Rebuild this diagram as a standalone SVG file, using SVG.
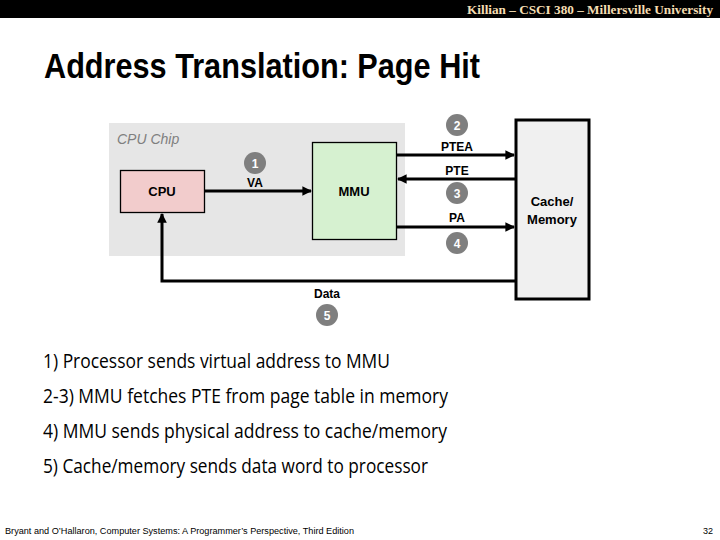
<svg xmlns="http://www.w3.org/2000/svg" width="720" height="540" viewBox="0 0 720 540">
<style>
.box{stroke:#000;stroke-width:1.3}
.lbl{font-family:"Liberation Sans",Arial,sans-serif;font-weight:bold;font-size:12px;fill:#000;text-anchor:middle}
.node{font-family:"Liberation Sans",Arial,sans-serif;font-weight:bold;font-size:13px;fill:#000}
.num{font-family:"Liberation Sans",Arial,sans-serif;font-weight:bold;font-size:12px;fill:#fff;text-anchor:middle}
.dot{fill:#7f7f7f}
.wire{stroke:#000;stroke-width:3;fill:none}
.body{font-family:"Open Sans","Liberation Sans",sans-serif;font-size:19.5px;fill:#000}
</style>
<defs>
<marker id="ah" viewBox="0 0 10 10" refX="9" refY="5" markerWidth="3.2" markerHeight="3.2" orient="auto" markerUnits="strokeWidth">
<path d="M0,0 L10,5 L0,10 z" fill="#000"/>
</marker>
</defs>
<rect x="0" y="0" width="720" height="18" fill="#000"/>
<text x="713" y="14" text-anchor="end" font-family="Liberation Serif,serif" font-weight="bold" font-size="12.5" fill="#f5deb3" textLength="246" lengthAdjust="spacingAndGlyphs">Killian – CSCI 380 – Millersville University</text>
<text x="44" y="78" font-family="Liberation Sans,Arial,sans-serif" font-weight="bold" font-size="35" fill="#000" textLength="436" lengthAdjust="spacingAndGlyphs">Address Translation: Page Hit</text>

<g id="chip">
<rect x="109" y="123" width="296" height="133" fill="#e6e6e6"/>
<text x="117" y="144" font-family="Liberation Sans,Arial,sans-serif" font-style="italic" font-size="14" fill="#7f7f7f">CPU Chip</text>
</g>
<g id="cpu">
<rect class="box" x="120.5" y="170.5" width="84" height="42" fill="#f2cccc"/>
<text class="node" x="162" y="196" text-anchor="middle">CPU</text>
</g>
<g id="mmu">
<rect class="box" x="312.5" y="142.5" width="84" height="97" fill="#d6f1d0"/>
<text class="node" x="354" y="196" text-anchor="middle">MMU</text>
</g>
<g id="mem">
<rect x="516" y="120" width="73" height="179" fill="#f0f0f0" stroke="#000" stroke-width="3"/>
<text class="node" x="552" y="206" text-anchor="middle">Cache/</text>
<text class="node" x="552" y="224" text-anchor="middle">Memory</text>
</g>

<g id="connectors">
<line class="wire" x1="205" y1="191" x2="311" y2="191" marker-end="url(#ah)"/>
<line class="wire" x1="397" y1="155" x2="514" y2="155" marker-end="url(#ah)"/>
<line class="wire" x1="515" y1="179" x2="398" y2="179" marker-end="url(#ah)"/>
<line class="wire" x1="397" y1="227" x2="514" y2="227" marker-end="url(#ah)"/>
<polyline class="wire" points="515,281 162,281 162,214" marker-end="url(#ah)"/>
</g>

<g id="labels">
<circle class="dot" cx="255" cy="163" r="11"/><text class="num" x="255" y="167.5">1</text>
<text class="lbl" x="255" y="187">VA</text>
<circle class="dot" cx="457" cy="125" r="11"/><text class="num" x="457" y="129.5">2</text>
<text class="lbl" x="457" y="151">PTEA</text>
<text class="lbl" x="457" y="175">PTE</text>
<circle class="dot" cx="457" cy="193" r="11"/><text class="num" x="457" y="197.5">3</text>
<text class="lbl" x="457" y="222">PA</text>
<circle class="dot" cx="457" cy="243" r="11"/><text class="num" x="457" y="247.5">4</text>
<text class="lbl" x="327" y="298">Data</text>
<circle class="dot" cx="327" cy="315" r="11"/><text class="num" x="327" y="319.5">5</text>
</g>

<text class="body" x="43" y="368" textLength="347" lengthAdjust="spacingAndGlyphs">1) Processor sends virtual address to MMU</text>
<text class="body" x="43" y="403" textLength="405" lengthAdjust="spacingAndGlyphs">2-3) MMU fetches PTE from page table in memory</text>
<text class="body" x="43" y="438" textLength="404" lengthAdjust="spacingAndGlyphs">4) MMU sends physical address to cache/memory</text>
<text class="body" x="43" y="473" textLength="385" lengthAdjust="spacingAndGlyphs">5) Cache/memory sends data word to processor</text>

<text x="5" y="534" font-family="Liberation Sans,Arial,sans-serif" font-size="8.5" fill="#000" textLength="349" lengthAdjust="spacingAndGlyphs">Bryant and O’Hallaron, Computer Systems: A Programmer’s Perspective, Third Edition</text>
<text x="713" y="534" text-anchor="end" font-family="Liberation Sans,Arial,sans-serif" font-size="9" fill="#000">32</text>
</svg>
